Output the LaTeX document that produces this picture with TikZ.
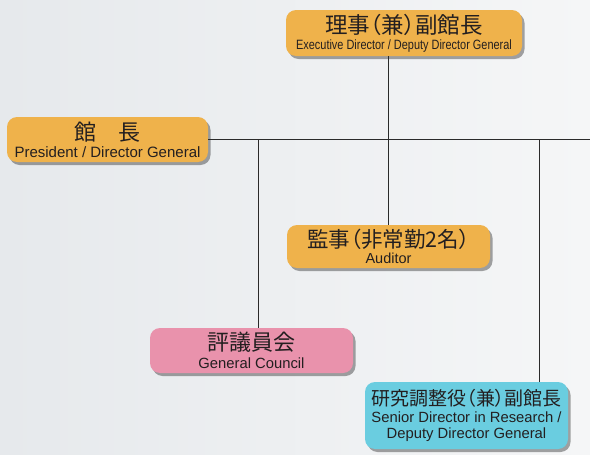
\documentclass[tikz,border=0pt]{standalone}
\usepackage{fontspec}
\setmainfont{Liberation Sans}
\newfontfamily\cjk[RawFeature=+palt]{Noto Sans CJK JP}
\newfontfamily\narrowsans[FakeStretch=0.81]{Liberation Sans}
\usetikzlibrary{shadows}
\definecolor{bgA}{HTML}{E6E9EC}
\definecolor{bgB}{HTML}{F5F6F7}
\definecolor{boxorange}{HTML}{EFB24B}
\definecolor{boxpink}{HTML}{E992AC}
\definecolor{boxcyan}{HTML}{6ACDE0}
\definecolor{ink}{HTML}{231F20}
\definecolor{linegray}{HTML}{2A2A2A}
\tikzset{
  orgbox/.style={rounded corners=10pt, inner sep=0pt, align=center, text=ink,
    font=\fontsize{12}{12}\selectfont,
    drop shadow={shadow xshift=2.5pt, shadow yshift=-3pt, fill=black, opacity=0.35}},
  conn/.style={draw=linegray, line width=0.9pt},
}
\newcommand{\cj}[2]{{\cjk\fontsize{#1}{#1}\selectfont #2}}
\newcommand{\en}[2]{{\fontsize{#1}{#1}\selectfont #2}}
\begin{document}
\begin{tikzpicture}[x=1pt,y=-1pt]
\useasboundingbox (0,0) rectangle (590,455);
\shade[left color=bgA, right color=bgB] (0,0) rectangle (590,455);

\node[orgbox, fill=boxorange, minimum width=236pt, minimum height=46pt] (top) at (404,33)
  {\cj{22.5}{理事（兼）副館長}\\[4pt]{\narrowsans\fontsize{13.5}{14}\selectfont Executive Director / Deputy Director General}};
\node[orgbox, fill=boxorange, minimum width=201pt, minimum height=45pt] (pres) at (107.5,139.5)
  {\cj{22}{館　長}\\[3pt]\en{15}{President / Director General}};
\node[orgbox, fill=boxorange, minimum width=203pt, minimum height=43pt] (aud) at (388.5,246.5)
  {\cj{21.5}{監事（非常勤2名）}\\[3pt]\en{14.5}{Auditor}};
\node[orgbox, fill=boxpink, minimum width=203pt, minimum height=45pt] (gc) at (251.5,350.5)
  {\cj{22}{評議員会}\\[4pt]\en{14.8}{General Council}};
\node[orgbox, fill=boxcyan, minimum width=203pt, minimum height=67pt] (sen) at (466.5,415.5)
  {\cj{19}{研究調整役（兼）副館長}\\[3.5pt]\en{14.8}{Senior Director in Research /}\\[4pt]\en{14.8}{Deputy Director General}};

\coordinate (rend) at (590,139);
\coordinate (j1) at (258,139);
\coordinate (j2) at (539,139);

\draw[conn] (aud.north |- top.south) -- (aud.north);
\draw[conn] (pres.east |- rend) -- (rend);
\draw[conn] (j1) -- (j1 |- gc.north);
\draw[conn] (j2) -- (j2 |- sen.north);
\end{tikzpicture}
\end{document}
